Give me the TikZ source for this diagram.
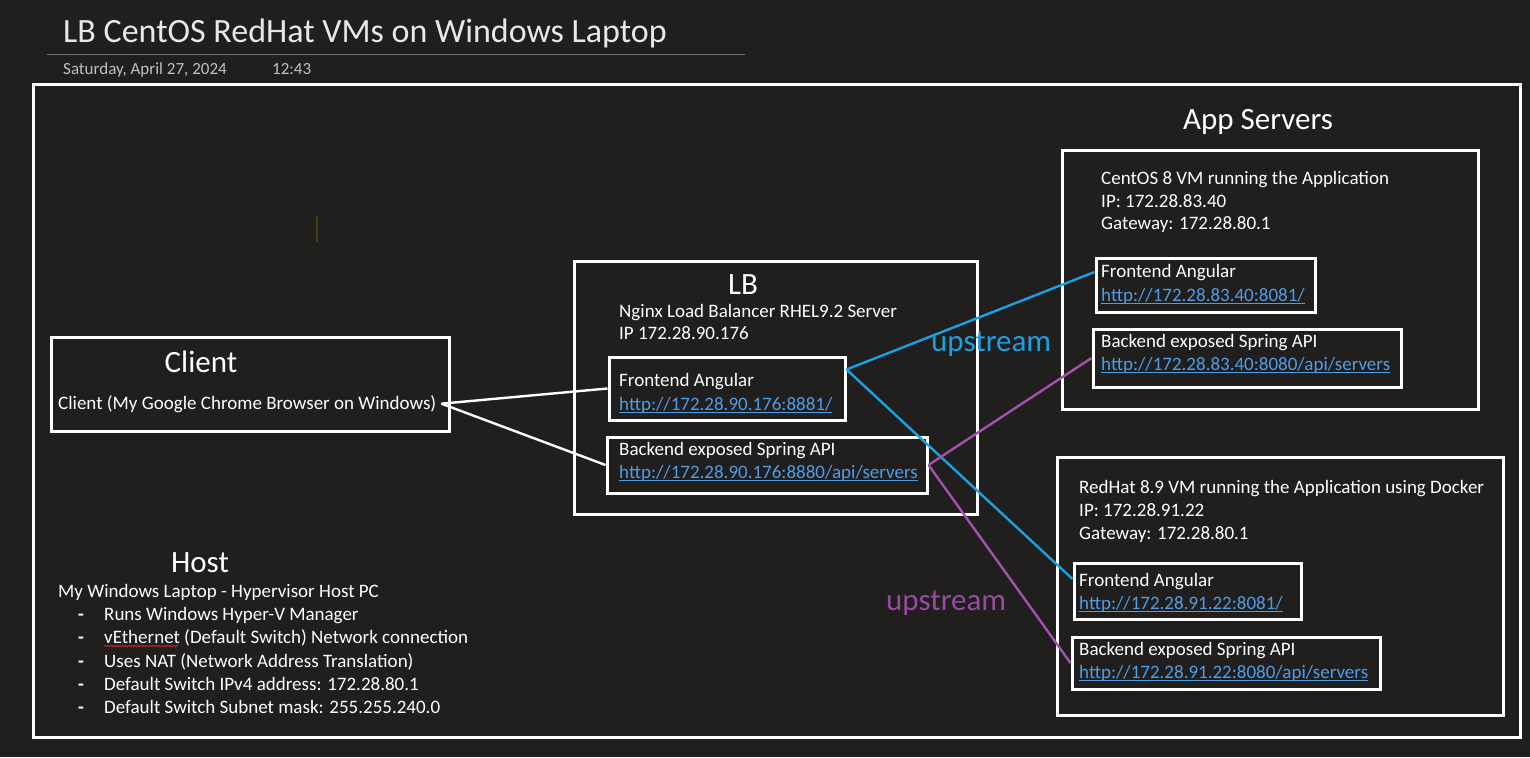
\documentclass[tikz,border=0pt]{standalone}
\usepackage{fontspec}
\setmainfont{Carlito}
\usetikzlibrary{fit,decorations.pathmorphing}

\definecolor{bgdark}{RGB}{32,31,30}
\definecolor{titlegray}{RGB}{232,232,232}
\definecolor{dategray}{RGB}{192,192,192}
\definecolor{rulegray}{RGB}{115,115,115}
\definecolor{linkblue}{RGB}{77,157,232}
\definecolor{upblue}{RGB}{27,161,226}
\definecolor{uppurple}{RGB}{162,82,172}
\definecolor{uptext}{RGB}{152,74,162}
\definecolor{spellred}{RGB}{210,40,40}
\definecolor{cursorolive}{RGB}{62,64,16}

\newcommand{\linktext}[1]{\setbox0\hbox{#1}\rlap{\rule[-2.6pt]{\wd0}{1.1pt}}\box0}

\tikzset{
  box/.style={draw=white, line width=3pt, inner sep=0pt},
  txt/.style={text=white, font=\fontsize{19}{23}\selectfont, anchor=base west, inner sep=0pt},
  url/.style={txt, text=linkblue},
  head/.style={text=white, font=\fontsize{31}{37}\selectfont, anchor=base, inner sep=0pt},
  wire/.style={white, line width=2.4pt},
  upline/.style={upblue, line width=2.4pt},
  apiline/.style={uppurple, line width=2.4pt}
}

\begin{document}
\begin{tikzpicture}[x=1pt, y=-1pt]
\fill[bgdark] (0,0) rectangle (1530,757);
\useasboundingbox (0,0) rectangle (1530,757);

% page header
\node[txt, font=\fontsize{34}{40}\selectfont, text=titlegray] (title) at (63,43) {LB CentOS RedHat VMs on Windows Laptop};
\draw[rulegray, line width=1pt] (47,55) -- (745,55);
\node[txt, font=\fontsize{17}{20}\selectfont, text=dategray] (date) at (63,75) {Saturday, April 27, 2024};
\node[txt, font=\fontsize{17}{20}\selectfont, text=dategray] (time) at (272,75) {12:43};

% laptop frame
\node[box, fit={(33,85) (1520,737)}] (laptop) {};
\draw[cursorolive, line width=2.5pt] (317,216) -- (317,242);

% client
\node[box, fit={(51,337) (449,431)}] (client) {};
\node[head] (clienthead) at (201,372) {Client};
\node[txt] (clienttxt) at (58,409) {Client (My Google Chrome Browser on Windows)};

% load balancer
\node[box, fit={(574,261) (977,514)}] (lb) {};
\node[head] (lbhead) at (743,294) {LB};
\node[txt] (lbname) at (619,317) {Nginx Load Balancer RHEL9.2 Server};
\node[txt] (lbip) at (619,339) {IP 172.28.90.176};
\node[box, fit={(609,357) (845,420)}] (lbfe) {};
\node[txt] (lbfetxt) at (619,386) {Frontend Angular};
\node[url] (lbfeurl) at (619,410) {\linktext{http://172.28.90.176:8881/}};
\node[box, fit={(607,437) (927,493)}] (lbbe) {};
\node[txt] (lbbetxt) at (619,455) {Backend exposed Spring API};
\node[url] (lbbeurl) at (619,478) {\linktext{http://172.28.90.176:8880/api/servers}};

% app servers
\node[head] (apphead) at (1258,129) {App Servers};

\node[box, fit={(1062,150) (1478,409)}] (centos) {};
\node[txt] (centosname) at (1101,184) {CentOS 8 VM running the Application};
\node[txt] (centosip) at (1101,207) {IP: 172.28.83.40};
\node[txt] (centosgw) at (1101,229) {Gateway: 172.28.80.1};
\node[box, fit={(1096,258) (1315,312)}] (cfe) {};
\node[txt] (cfetxt) at (1101,277) {Frontend Angular};
\node[url] (cfeurl) at (1101,301) {\linktext{http://172.28.83.40:8081/}};
\node[box, fit={(1093,329) (1401,387)}] (cbe) {};
\node[txt] (cbetxt) at (1101,347) {Backend exposed Spring API};
\node[url] (cbeurl) at (1101,370) {\linktext{http://172.28.83.40:8080/api/servers}};

\node[box, fit={(1057,457) (1503,715)}] (redhat) {};
\node[txt] (redhatname) at (1079,493) {RedHat 8.9 VM running the Application using Docker};
\node[txt] (redhatip) at (1079,516) {IP: 172.28.91.22};
\node[txt] (redhatgw) at (1079,539) {Gateway: 172.28.80.1};
\node[box, fit={(1074,563) (1301,619)}] (rfe) {};
\node[txt] (rfetxt) at (1079,586) {Frontend Angular};
\node[url] (rfeurl) at (1079,609) {\linktext{http://172.28.91.22:8081/}};
\node[box, fit={(1072,637) (1380,689)}] (rbe) {};
\node[txt] (rbetxt) at (1079,655) {Backend exposed Spring API};
\node[url] (rbeurl) at (1079,678) {\linktext{http://172.28.91.22:8080/api/servers}};

% host
\node[head] (hosthead) at (200,572) {Host};
\node[txt] (hostpc) at (58,597) {My Windows Laptop - Hypervisor Host PC};
\node[txt] (hd1) at (78,620) {\textbf{-}};
\node[txt] (hb1) at (104,620) {Runs Windows Hyper-V Manager};
\node[txt] (hd2) at (78,643) {\textbf{-}};
\node[txt] (hb2) at (104,643) {vEthernet (Default Switch) Network connection};
\node[txt] (hd3) at (78,667) {\textbf{-}};
\node[txt] (hb3) at (104,667) {Uses NAT (Network Address Translation)};
\node[txt] (hd4) at (78,690) {\textbf{-}};
\node[txt] (hb4) at (104,690) {Default Switch IPv4 address: 172.28.80.1};
\node[txt] (hd5) at (78,713) {\textbf{-}};
\node[txt] (hb5) at (104,713) {Default Switch Subnet mask: 255.255.240.0};
\draw[spellred, line width=0.8pt, decorate, decoration={snake, amplitude=0.7pt, segment length=3pt}]
  ([yshift=-3pt]hb2.base west) -- ++(74,0);

% client to lb
\draw[wire] ([xshift=5pt]clienttxt.east) -- (lbfe.west);
\draw[wire] ([xshift=5pt]clienttxt.east) -- (lbbe.west);

% upstreams
\draw[upline] ([yshift=19pt]lbfe.east) -- ([yshift=13pt]cfe.west);
\draw[upline] ([yshift=19pt]lbfe.east) -- ([yshift=12pt]rfe.west);
\draw[apiline] (lbbe.east) -- (cbe.west);
\draw[apiline] (lbbe.east) -- (rbe.west);
\node[anchor=base west, inner sep=0pt, text=upblue, font=\fontsize{31}{37}\selectfont] (upfront) at (931,351) {upstream};
\node[anchor=base west, inner sep=0pt, text=uptext, font=\fontsize{31}{37}\selectfont] (upapi) at (886,610) {upstream};
\end{tikzpicture}
\end{document}
